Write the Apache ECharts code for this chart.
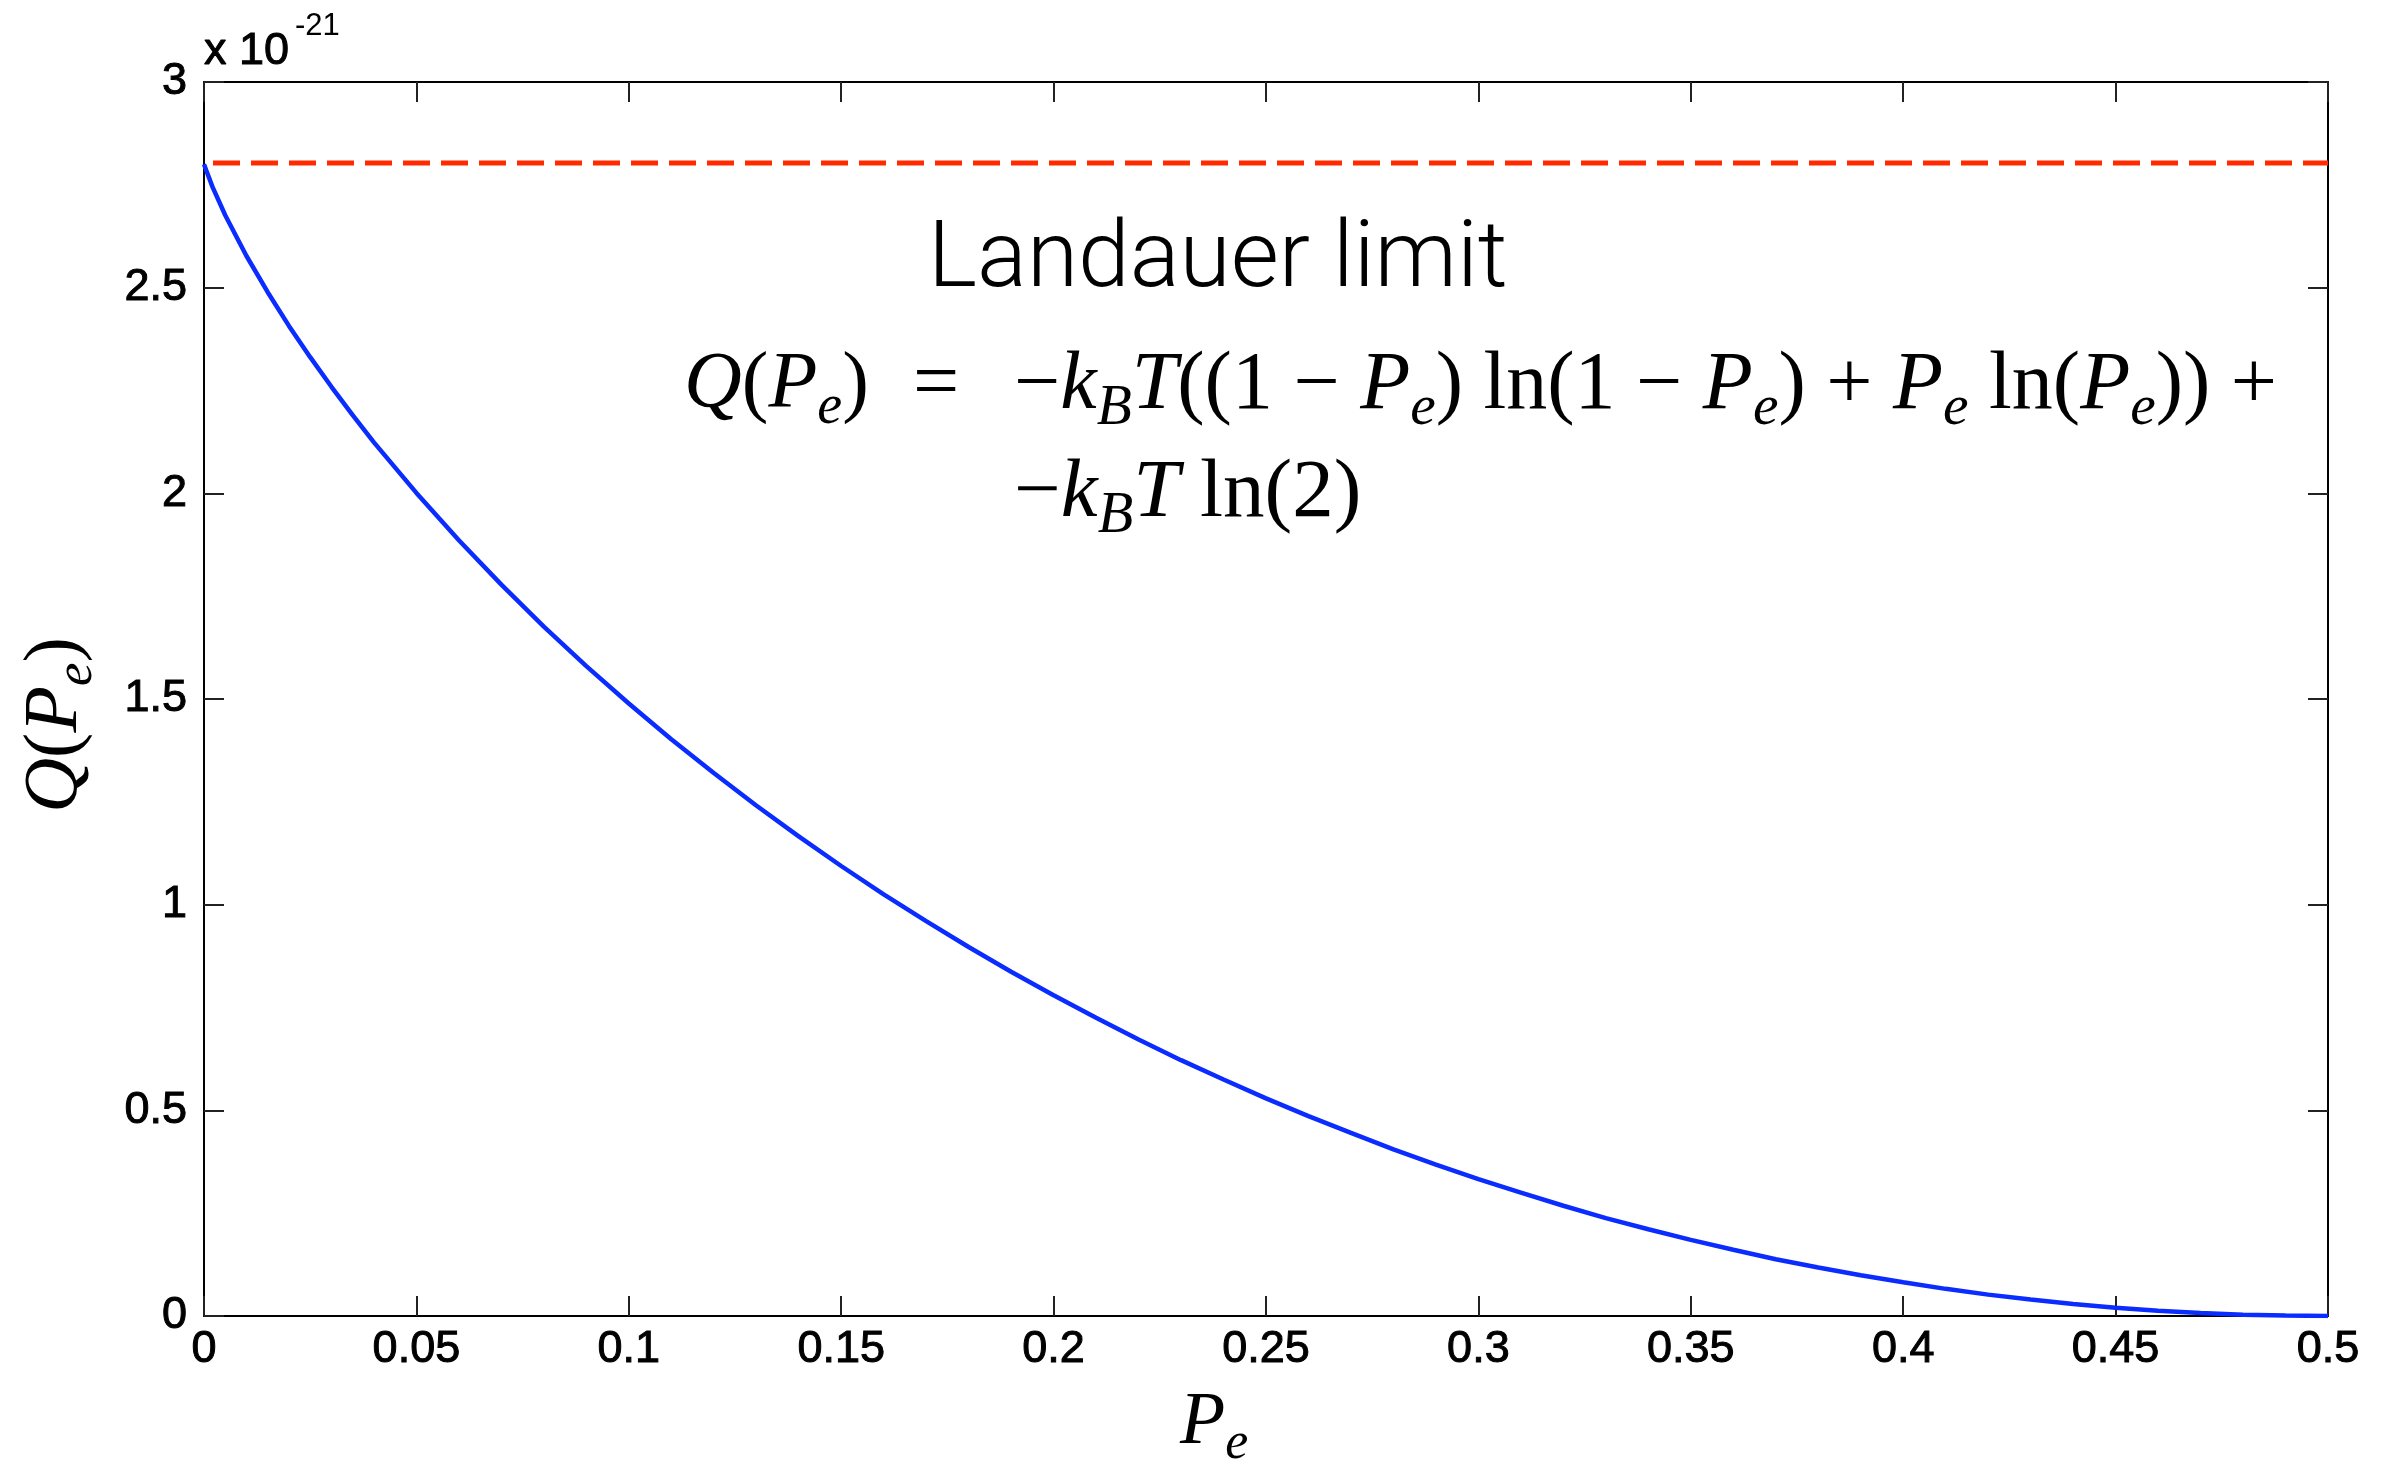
<!DOCTYPE html>
<html>
<head>
<meta charset="utf-8">
<title>Q(Pe) vs Pe</title>
<script src="https://cdn.jsdelivr.net/npm/echarts@6/dist/echarts.min.js"></script>
<style>
  html, body { margin: 0; padding: 0; background: #ffffff; }
  #chart { width: 2386px; height: 1464px; }
</style>
</head>
<body>
<div id="chart"></div>
<script>
// Error probability P_e (denser sampling near 0 where the curve is steep)
const peValues = [
  0.000, 0.0005, 0.002, 0.005, 0.010, 0.015, 0.020, 0.025, 0.030, 0.035, 0.040, 0.05, 0.06, 0.07, 0.08, 0.09,
  0.10, 0.11, 0.12, 0.13, 0.14, 0.15, 0.16, 0.17, 0.18, 0.19,
  0.20, 0.21, 0.22, 0.23, 0.24, 0.25, 0.26, 0.27, 0.28, 0.29,
  0.30, 0.31, 0.32, 0.33, 0.34, 0.35, 0.36, 0.37, 0.38, 0.39,
  0.40, 0.41, 0.42, 0.43, 0.44, 0.45, 0.46, 0.47, 0.48, 0.49, 0.50
];
// Dissipated heat Q(P_e), in units of 1e-21 J
const qValues = [
  2.800, 2.786, 2.745, 2.676, 2.577, 2.489, 2.407, 2.331, 2.259, 2.190, 2.124, 2.001, 1.886, 1.778, 1.676, 1.580,
  1.489, 1.402, 1.320, 1.241, 1.166, 1.094, 1.025, 0.960, 0.897, 0.837,
  0.780, 0.725, 0.672, 0.622, 0.575, 0.529, 0.486, 0.445, 0.405, 0.368,
  0.333, 0.300, 0.268, 0.238, 0.211, 0.185, 0.161, 0.138, 0.118, 0.099,
  0.082, 0.066, 0.052, 0.040, 0.029, 0.020, 0.013, 0.007, 0.003, 0.001, 0.000
];
// Landauer limit k_B T ln(2), units of 1e-21 J
const landauerPe = [0.0, 0.5];
const landauerQ = [2.803, 2.803];

const xTickLabels = ['0', '0.05', '0.1', '0.15', '0.2', '0.25', '0.3', '0.35', '0.4', '0.45', '0.5'];
const yTickLabels = ['0', '0.5', '1', '1.5', '2', '2.5', '3'];

const chart = echarts.init(document.getElementById('chart'), null, { renderer: 'canvas' });

const tickFont = '"Liberation Sans", Arial, Helvetica, sans-serif';
const mathFont = '"Liberation Serif", "Times New Roman", serif';

const axisLine = { show: true, onZero: false, lineStyle: { color: '#000000', width: 2 } };
const axisTick = { show: true, inside: true, length: 20, lineStyle: { color: '#222222', width: 2 } };

const mathRich = function (size) {
  return {
    it: { fontFamily: mathFont, fontStyle: 'italic', fontSize: size, lineHeight: size * 1.25, verticalAlign: 'middle', color: '#000' },
    rm: { fontFamily: mathFont, fontSize: size, lineHeight: size * 1.25, verticalAlign: 'middle', color: '#000' },
    sub: { fontFamily: mathFont, fontStyle: 'italic', fontSize: size * 0.7, lineHeight: size * 0.7, verticalAlign: 'bottom', color: '#000' }
  };
};

const option = {
  animation: false,
  backgroundColor: '#ffffff',
  grid: { left: 204, top: 82, width: 2124, height: 1234, containLabel: false },
  xAxis: [
    {
      type: 'value', position: 'bottom', min: 0, max: 0.5, interval: 0.05,
      axisLine: axisLine, axisTick: axisTick, splitLine: { show: false },
      axisLabel: {
        margin: 11, fontFamily: tickFont, fontSize: 45, color: '#000',
        textBorderColor: '#000', textBorderWidth: 1,
        formatter: function (v, i) { return xTickLabels[i]; }
      }
    },
    {
      type: 'value', position: 'top', min: 0, max: 0.5, interval: 0.05,
      axisLine: axisLine, axisTick: axisTick, splitLine: { show: false },
      axisLabel: { show: false }
    }
  ],
  yAxis: [
    {
      type: 'value', position: 'left', min: 0, max: 3, interval: 0.5,
      axisLine: axisLine, axisTick: axisTick, splitLine: { show: false },
      axisLabel: {
        margin: 17, fontFamily: tickFont, fontSize: 45, color: '#000',
        textBorderColor: '#000', textBorderWidth: 1,
        formatter: function (v, i) { return yTickLabels[i]; }
      }
    },
    {
      type: 'value', position: 'right', min: 0, max: 3, interval: 0.5,
      axisLine: axisLine, axisTick: axisTick, splitLine: { show: false },
      axisLabel: { show: false }
    }
  ],
  series: [
    {
      name: 'Landauer limit',
      type: 'line',
      data: landauerPe.map(function (p, i) { return [p, landauerQ[i]]; }),
      showSymbol: false,
      lineStyle: { color: '#ff2a00', width: 5, type: [27, 11], dashOffset: 29 },
      z: 3
    },
    {
      name: 'Q(Pe)',
      type: 'line',
      data: peValues.map(function (p, i) { return [p, qValues[i]]; }),
      showSymbol: false,
      smooth: false,
      lineStyle: { color: '#0a2cff', width: 4.5 },
      z: 4
    }
  ],
  graphic: [
    // exponent above the y axis
    { type: 'text', z: 10, style: { x: 204, y: 52, text: 'x 10', fontFamily: tickFont, fontSize: 45, fill: '#000', stroke: '#000', lineWidth: 1, align: 'left', verticalAlign: 'middle' } },
    { type: 'text', z: 10, style: { x: 295, y: 26, text: '-21', fontFamily: tickFont, fontSize: 31, fill: '#000', align: 'left', verticalAlign: 'middle' } },
    // annotation
    { type: 'text', z: 10, style: { x: 928, y: 263, text: 'Landauer limit', fontFamily: 'Roboto, "Liberation Sans", sans-serif', fontWeight: 300, fontSize: 93, fill: '#000', align: 'left', verticalAlign: 'middle' } },
    // formula, first line
    { type: 'text', z: 10, style: { x: 684, y: 386, text: '{it|Q}{rm|(}{it|P}{sub|e}{rm|)}', rich: mathRich(80), align: 'left', verticalAlign: 'middle' } },
    { type: 'text', z: 10, style: { x: 913, y: 386, text: '{rm|=}', rich: mathRich(82), align: 'left', verticalAlign: 'middle' } },
    { type: 'text', z: 10, style: { x: 1014, y: 386, text: '{rm|−}{it|k}{sub|B}{it|T}{rm|((1 − }{it|P}{sub|e}{rm|) ln(1 − }{it|P}{sub|e}{rm|) + }{it|P}{sub|e}{rm| ln(}{it|P}{sub|e}{rm|)) +}', rich: mathRich(82), align: 'left', verticalAlign: 'middle' } },
    // formula, second line
    { type: 'text', z: 10, style: { x: 1014, y: 494, text: '{rm|−}{it|k}{sub|B}{it|T}{rm| ln(2)}', rich: mathRich(83), align: 'left', verticalAlign: 'middle' } },
    // axis titles
    { type: 'text', z: 10, rotation: Math.PI / 2, x: 56, y: 725, style: { x: 0, y: 0, text: '{it|Q}{rm|(}{it|P}{sub|e}{rm|)}', rich: mathRich(76), align: 'center', verticalAlign: 'middle' } },
    { type: 'text', z: 10, style: { x: 1180, y: 1424, text: '{it|P}{sub|e}', rich: mathRich(74), align: 'left', verticalAlign: 'middle' } }
  ]
};

chart.setOption(option);
</script>
</body>
</html>
